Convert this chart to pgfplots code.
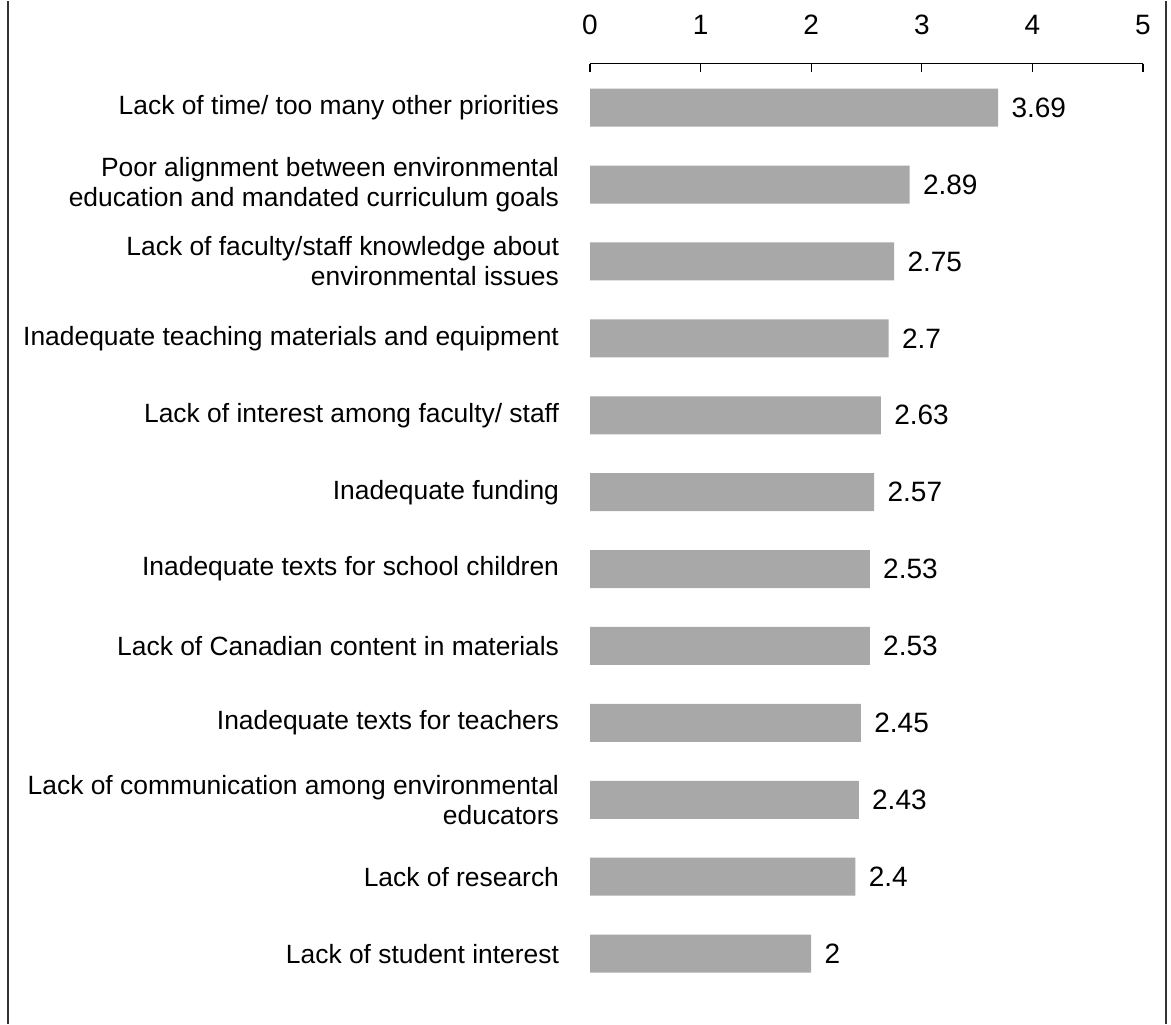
\documentclass[border=0pt]{standalone}
\usepackage{pgfplots}
\pgfplotsset{compat=1.18}
\usepackage{fontspec}
\setmainfont{Liberation Sans}
\definecolor{bargray}{HTML}{A8A8A8}
\begin{document}
\begin{tikzpicture}
\path (0pt,0pt) rectangle (585.5pt,511.5pt);
\draw[line width=0.7pt, black!80] (4pt,0pt) -- (4pt,511.5pt);
\draw[line width=0.7pt, black!80] (583pt,0pt) -- (583pt,511.5pt);
\begin{axis}[
  at={(295pt,480pt)}, anchor=north west,
  scale only axis, width=276.5pt, height=468pt,
  xmin=0, xmax=5, ymin=-0.6, ymax=11.572,
  axis x line*=top, axis y line*=left,
  y axis line style={draw=none},
  ytick style={draw=none},
  x axis line style={line width=0.6pt},
  xtick={0,1,2,3,4,5},
  tick align=inside, major tick length=4pt,
  xtick style={line width=0.6pt, black},
  xticklabel style={font=\fontsize{14}{16}\selectfont, yshift=11pt},
  /pgf/number format/assume math mode=true,
  ytick={0,...,11},
  yticklabels={
    Lack of student interest,
    Lack of research,
    {Lack of communication among environmental\\educators},
    Inadequate texts for teachers,
    Lack of Canadian content in materials,
    Inadequate texts for school children,
    Inadequate funding,
    Lack of interest among faculty/ staff,
    Inadequate teaching materials and equipment,
    {Lack of faculty/staff knowledge about\\environmental issues},
    {Poor alignment between environmental\\education and mandated curriculum goals},
    Lack of time/ too many other priorities},
  yticklabel style={font=\fontsize{13.2}{15}\selectfont, align=right, xshift=-8pt},
  xbar, bar width=19pt,
  nodes near coords,
  point meta=x,
  nodes near coords style={font=\fontsize{14}{16}\selectfont, anchor=west, inner sep=0pt, xshift=6.5pt},
  clip=false,
]
\addplot[draw=none, fill=bargray] coordinates {
(2,0) (2.4,1) (2.43,2) (2.45,3) (2.53,4) (2.53,5) (2.57,6) (2.63,7) (2.7,8) (2.75,9) (2.89,10) (3.69,11)
};
\end{axis}
\end{tikzpicture}
\end{document}
